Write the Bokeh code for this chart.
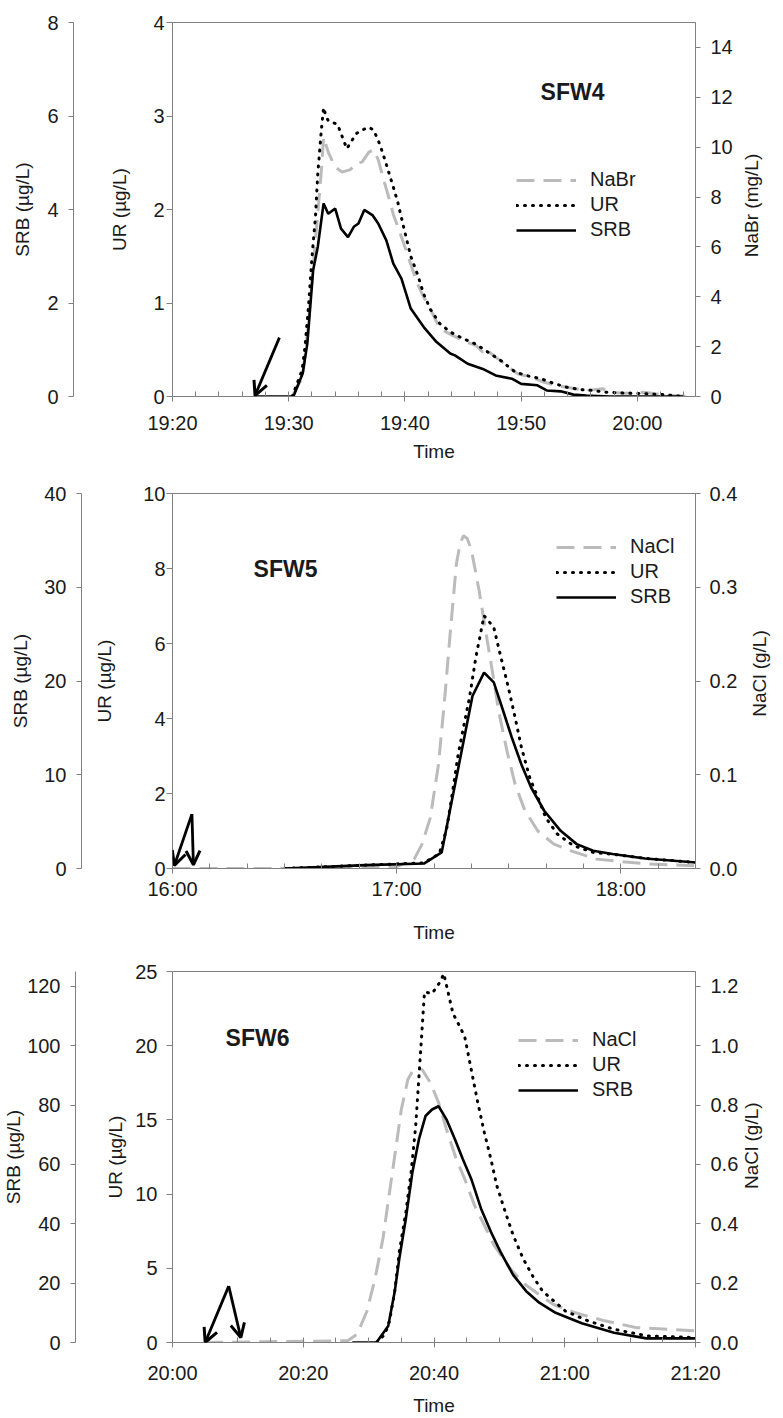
import math
import datetime as dt
from bokeh.plotting import figure
from bokeh.layouts import column
from bokeh.models import (Range1d, LinearAxis, FixedTicker, DatetimeTickFormatter,
                          Label, Arrow, OpenHead, NumeralTickFormatter)
from bokeh.embed import file_html
from bokeh.resources import INLINE

FONT = "Liberation Sans"

# ---------------- SFW4 (minutes after 19:20) ----------------
sfw4_start = "19:20"
sfw4_srb_t = [7.0, 10.4, 11.2, 11.6, 12.1, 12.5, 13.0, 13.4, 14.0, 14.5, 15.1, 15.6, 16.0,
              16.5, 17.2, 17.7, 18.4, 19.0, 19.7, 20.5, 21.6, 22.7, 23.9, 24.3, 25.4, 26.7,
              27.8, 29.2, 30.0, 31.4, 32.2, 33.4, 34.5, 35.6, 37.6, 44.0]
sfw4_srb = [0, 0, 0.49, 1.13, 2.70, 3.20, 4.13, 3.91, 4.02, 3.59, 3.41, 3.63, 3.70,
            3.99, 3.88, 3.70, 3.34, 2.84, 2.52, 1.88, 1.49, 1.17, 0.92, 0.88, 0.70, 0.59,
            0.45, 0.38, 0.27, 0.24, 0.13, 0.11, 0.04, 0.02, 0, 0]
sfw4_ur_t = [10.3, 11.15, 11.4, 11.7, 12.0, 12.3, 12.5, 12.8, 13.0, 13.2, 13.4, 13.8, 14.2,
             14.6, 15.0, 15.35, 15.8, 16.3, 16.9, 17.3, 17.7, 18.1, 18.55, 19.0, 19.4, 19.95,
             20.5, 21.1, 21.6, 22.2, 23.0, 23.9, 25.0, 26.1, 27.2, 28.3, 29.5, 30.6, 31.7,
             32.8, 33.9, 35.0, 36.2, 37.3, 39.0, 40.6, 42.3, 44.0]
sfw4_ur = [0, 0.28, 0.53, 0.96, 1.49, 1.92, 2.38, 2.84, 3.09, 3.00, 2.95, 2.93, 2.91,
           2.78, 2.65, 2.72, 2.81, 2.85, 2.88, 2.85, 2.74, 2.60, 2.42, 2.24, 2.07, 1.78,
           1.50, 1.30, 1.10, 0.93, 0.78, 0.69, 0.62, 0.56, 0.47, 0.38, 0.26, 0.22, 0.19,
           0.14, 0.10, 0.075, 0.064, 0.046, 0.035, 0.03, 0.02, 0.0]
sfw4_nabr_t = [10.3, 11.2, 11.6, 12.0, 12.4, 12.8, 13.0, 13.4, 14.0, 14.6, 15.3, 15.8, 16.3,
               16.9, 17.3, 17.7, 18.1, 18.6, 19.0, 19.4, 20.0, 20.5, 21.1, 21.6, 22.3, 23.0,
               24.1, 25.3, 26.1, 26.7, 26.9, 27.8, 28.6, 29.7, 30.9, 32.0, 33.1, 34.2, 35.6,
               37.0, 37.8, 38.9, 40.6, 42.3, 44.5]
sfw4_nabr = [0, 0.8, 2.5, 4.6, 6.8, 9.0, 10.4, 9.8, 9.2, 9.0, 9.1, 9.35, 9.4,
             9.8, 9.9, 9.5, 8.8, 8.0, 7.3, 6.8, 6.0, 5.3, 4.5, 4.0, 3.4, 2.72,
             2.45, 2.18, 2.05, 1.78, 1.91, 1.58, 1.31, 0.91, 0.77, 0.57, 0.44, 0.35, 0.24,
             0.31, 0.17, 0.13, 0.17, 0.06, 0.0]
sfw4_arrow_tail_t = [9.2]
sfw4_arrow_tail_ur = [0.63]
sfw4_arrow_head_t = [7.1]
sfw4_arrow_head_ur = [0.01]

# ---------------- SFW5 (minutes after 16:00) ----------------
sfw5_start = "16:00"
sfw5_srb_t = [30.1, 51.6, 67.3, 72.05, 80.3, 83.4, 86.0, 88.2, 90.8, 93.4, 96.0, 99.5,
              103.9, 108.2, 112.6, 117.8, 126.5, 140.2]
sfw5_srb = [0, 0.36, 0.53, 1.71, 18.4, 20.9, 19.85, 17.2, 14.0, 11.1, 8.64, 6.16,
            4.02, 2.60, 1.89, 1.54, 1.07, 0.64]
sfw5_ur_t = [30.1, 51.6, 67.3, 71.4, 73.4, 75.1, 76.4, 77.7, 79.5, 81.2, 83.4, 86.0, 87.7,
             89.9, 91.7, 93.4, 95.6, 97.8, 99.9, 103.0, 107.3, 112.6, 117.8, 126.5, 140.2]
sfw5_ur = [0, 0.09, 0.15, 0.39, 1.06, 2.13, 3.0, 3.67, 4.56, 5.63, 6.74, 6.43, 5.72,
           4.83, 4.03, 3.23, 2.43, 1.89, 1.36, 0.92, 0.61, 0.43, 0.38, 0.27, 0.16]
sfw5_nacl_t = [0, 30, 60, 64.7, 66.8, 69.0, 71.2, 72.9, 74.4, 76.0, 77.0, 77.9, 78.9, 80.0,
               82.1, 83.8, 85.6, 87.3, 89.5, 91.7, 94.3, 97.8, 102.1, 106.5, 113.5, 126.5,
               139.6]
sfw5_nacl = [0, 0, 0.002, 0.010, 0.026, 0.054, 0.111, 0.183, 0.254, 0.325, 0.347, 0.355,
             0.352, 0.340, 0.296, 0.254, 0.211, 0.168, 0.126, 0.090, 0.062, 0.040, 0.026,
             0.019, 0.010, 0.005, 0.003]
sfw5_arrow_tail_t = [5.2, 5.2]
sfw5_arrow_tail_ur = [1.45, 1.45]
sfw5_arrow_head_t = [0.5, 5.6]
sfw5_arrow_head_ur = [0.08, 0.1]

# ---------------- SFW6 (minutes after 20:00) ----------------
sfw6_start = "20:00"
sfw6_srb_t = [27.5, 31.2, 33.0, 34.0, 34.7, 35.7, 36.7, 37.7, 38.7, 39.7, 40.7, 41.9, 43.2,
              44.4, 45.7, 47.2, 48.7, 50.15, 52.1, 54.1, 56.1, 58.6, 62.6, 67.55, 72.5, 80.0]
sfw6_srb = [0, 0, 5.6, 17.3, 28.4, 41.8, 57.4, 68.5, 76.3, 78.5, 79.6, 75.2, 68.5,
            61.8, 55.1, 45.1, 37.3, 30.6, 22.8, 17.3, 13.4, 10.0, 6.5, 3.3, 1.4, 1.4]
sfw6_ur_t = [31.2, 32.5, 33.2, 34.0, 34.7, 35.7, 36.5, 37.2, 37.7, 38.2, 38.55, 39.7, 40.9,
             41.5, 42.2, 42.9, 43.7, 44.7, 45.7, 46.7, 47.7, 48.7, 49.6, 50.9, 52.1, 53.6,
             55.1, 56.6, 58.6, 60.1, 63.6, 67.55, 72.5, 80.0]
sfw6_ur = [0, 0.55, 1.45, 3.46, 6.13, 8.80, 11.48, 14.59, 17.93, 21.28, 23.62, 23.51, 24.28,
           24.85, 23.51, 22.17, 21.50, 20.61, 18.38, 16.16, 14.15, 12.37, 10.58, 8.80, 7.24,
           5.68, 4.48, 3.46, 2.70, 2.12, 1.45, 0.89, 0.45, 0.33]
sfw6_nacl_t = [5.0, 26.8, 28.25, 29.75, 31.0, 32.2, 33.2, 34.0, 35.0, 36.0, 37.0, 38.2,
               39.45, 40.7, 41.9, 43.4, 44.7, 46.2, 47.7, 49.15, 51.6, 53.6, 56.1, 58.3,
               61.6, 66.1, 71.0, 80.0]
sfw6_nacl = [0, 0.006, 0.028, 0.106, 0.217, 0.351, 0.507, 0.629, 0.785, 0.886, 0.925, 0.919,
             0.875, 0.808, 0.719, 0.618, 0.551, 0.462, 0.395, 0.329, 0.251, 0.201, 0.161,
             0.128, 0.100, 0.073, 0.050, 0.039]
sfw6_arrow_tail_t = [8.6, 8.6]
sfw6_arrow_tail_ur = [3.8, 3.8]
sfw6_arrow_head_t = [5.0, 10.45]
sfw6_arrow_head_ur = [0.0, 0.33]

EPOCH = dt.datetime(1970, 1, 1)


def to_dt(start, minutes):
    h, m = map(int, start.split(":"))
    base = dt.datetime(2000, 1, 1, h, m)
    return [base + dt.timedelta(minutes=float(x)) for x in minutes]


def to_ms(start, minutes):
    return [(d - EPOCH).total_seconds() * 1000.0 for d in to_dt(start, minutes)]


AX_COLOR = "#808080"
TXT_COLOR = "#1a1a1a"

# approximate advance widths (em) of the sans font, used to centre the rotated titles
_W = {"N": .722, "a": .556, "B": .667, "r": .333, " ": .278, "(": .333, "m": .833,
      "g": .556, "/": .278, "L": .556, ")": .333, "C": .722, "l": .222}


def text_len(s, size):
    return sum(_W.get(c, .556) for c in s) * size


def style_axis(ax, tick_out, label_standoff, axis_label_standoff,
               tick_size="20px", label_size="19px"):
    ax.axis_line_color = AX_COLOR
    ax.major_tick_line_color = AX_COLOR
    ax.minor_tick_line_color = None
    ax.major_tick_in = 0
    ax.major_tick_out = tick_out
    ax.minor_tick_in = 0
    ax.minor_tick_out = 0
    ax.major_label_standoff = label_standoff
    ax.axis_label_standoff = axis_label_standoff
    ax.major_label_text_font = FONT
    ax.major_label_text_font_size = tick_size
    ax.major_label_text_color = TXT_COLOR
    ax.axis_label_text_font = FONT
    ax.axis_label_text_font_size = label_size
    ax.axis_label_text_font_style = "normal"
    ax.axis_label_text_color = TXT_COLOR


def make_panel(cfg):
    start = cfg["start"]
    W = 783
    fw, fh, bl, bt, H = cfg["fw"], cfg["fh"], cfg["bl"], cfg["bt"], cfg["height"]
    x0, x1 = to_dt(start, [0, cfg["span"]])
    p = figure(width=W, height=H, x_axis_type="datetime",
               x_range=Range1d(x0, x1), y_range=Range1d(0, cfg["ur_max"]),
               output_backend="svg", toolbar_location=None,
               min_border_left=bl, min_border_right=W - bl - fw,
               min_border_top=bt, min_border_bottom=H - bt - fh)
    p.xgrid.visible = False
    p.ygrid.visible = False
    p.outline_line_color = AX_COLOR
    p.outline_line_width = 1
    p.background_fill_color = "white"
    p.border_fill_color = "white"
    p.extra_y_ranges = {"srb": Range1d(0, cfg["srb_max"]), "na": Range1d(0, cfg["na_max"])}

    p.line(to_dt(start, cfg["na_t"]), cfg["na"], y_range_name="na",
           line_color="#BBBBBB", line_width=3, line_dash="18 9",
           legend_label=cfg["na_name"])
    p.line(to_dt(start, cfg["ur_t"]), cfg["ur"], line_color="black", line_width=3,
           line_dash="1 7", line_cap="round", legend_label="UR")
    p.line(to_dt(start, cfg["srb_t"]), cfg["srb"], y_range_name="srb",
           line_color="black", line_width=2.6, legend_label="SRB")

    # bottom axis
    xa = p.xaxis[0]
    xa.ticker = FixedTicker(ticks=to_ms(start, cfg["x_major"]),
                            minor_ticks=to_ms(start, cfg["x_minor"]))
    fmt = "%H:%M"
    xa.formatter = DatetimeTickFormatter(seconds=fmt, minsec=fmt, minutes=fmt,
                                         hourmin=fmt, hours=fmt, days=fmt)
    xa.axis_label = "Time"
    style_axis(xa, 5, cfg["x_ls"], cfg["x_als"])
    xa.minor_tick_line_color = AX_COLOR
    xa.minor_tick_in = 5
    xa.minor_tick_out = 0

    # UR axis (inner left)
    ya = p.yaxis[0]
    ya.ticker = FixedTicker(ticks=cfg["ur_ticks"])
    ya.axis_label = "UR (µg/L)"
    style_axis(ya, 6, cfg["ur_ls"], cfg["ur_als"])

    # blank spacer between the two left axes: one white tick with an empty label
    sp_tick = cfg["srb_ticks"][1]
    spacer = LinearAxis(y_range_name="srb", ticker=FixedTicker(ticks=[sp_tick]),
                        axis_line_color=None, major_tick_line_color="white",
                        minor_tick_line_color=None, major_tick_in=0,
                        major_tick_out=cfg["spacer"], minor_tick_out=0,
                        major_label_standoff=0, major_label_overrides={sp_tick: ""},
                        major_label_text_alpha=0, major_label_text_font_size="1px",
                        axis_label=None)
    p.add_layout(spacer, "left")

    # SRB axis (outer left)
    sa = LinearAxis(y_range_name="srb", ticker=FixedTicker(ticks=cfg["srb_ticks"]),
                    axis_label="SRB (µg/L)")
    style_axis(sa, 5, 10, cfg["srb_als"])
    p.add_layout(sa, "left")

    # right axis
    ra = LinearAxis(y_range_name="na", ticker=FixedTicker(ticks=cfg["na_ticks"]))
    if cfg.get("na_fmt"):
        ra.formatter = NumeralTickFormatter(format=cfg["na_fmt"])
    style_axis(ra, 5, cfg["na_ls"], 0)
    p.add_layout(ra, "right")

    # right-hand title, reading bottom-to-top (one rotated tick label on a bare axis)
    tlen = text_len(cfg["na_label"], 19)
    tv = round((cfg["na_title_y"] - tlen / 2.0) / fh * cfg["na_max"], 4)
    ta = LinearAxis(y_range_name="na", ticker=FixedTicker(ticks=[tv]),
                    major_label_overrides={tv: cfg["na_label"]},
                    major_label_orientation=math.pi / 2,
                    axis_line_color=None, major_tick_line_color=None,
                    minor_tick_line_color=None, major_tick_in=0, major_tick_out=0,
                    minor_tick_out=0, major_label_standoff=cfg["na_title_so"],
                    major_label_text_font=FONT, major_label_text_font_size="19px",
                    major_label_text_color=TXT_COLOR, axis_label=None)
    p.add_layout(ta, "right")

    # legend
    lg = p.legend[0]
    lg.location = cfg["legend_loc"]
    lg.border_line_color = None
    lg.background_fill_alpha = 0
    lg.label_text_font = FONT
    lg.label_text_font_size = "20px"
    lg.label_text_color = TXT_COLOR
    lg.glyph_width = 60
    lg.glyph_height = 20
    lg.label_height = 20
    lg.label_standoff = 14
    lg.spacing = 2
    lg.padding = 0
    lg.margin = 0

    # panel name
    p.add_layout(Label(x=cfg["title_xy"][0], y=cfg["title_xy"][1], x_units="screen",
                       y_units="screen", text=cfg["title"], text_font=FONT,
                       text_font_size="23px", text_font_style="bold",
                       text_color=TXT_COLOR, text_align="center",
                       text_baseline="middle"))

    # injection arrows
    tails = to_ms(start, cfg["a_tail_t"])
    heads = to_ms(start, cfg["a_head_t"])
    for xs, ys, xe, ye in zip(tails, cfg["a_tail_y"], heads, cfg["a_head_y"]):
        p.add_layout(Arrow(end=OpenHead(size=14, line_width=3, line_color="black"),
                           x_start=xs, y_start=ys, x_end=xe, y_end=ye,
                           line_width=2.8, line_color="black"))
    return p


panels = [
    dict(start=sfw4_start, span=45, height=470, bt=22, fh=374, bl=169, fw=537,
         ur_max=4, srb_max=8, na_max=15,
         srb_t=sfw4_srb_t, srb=sfw4_srb, ur_t=sfw4_ur_t, ur=sfw4_ur,
         na_t=sfw4_nabr_t, na=sfw4_nabr, na_name="NaBr", na_label="NaBr (mg/L)",
         na_fmt=None,
         x_major=[0, 10, 20, 30, 40], x_minor=list(range(0, 46, 2)),
         ur_ticks=[0, 1, 2, 3, 4], srb_ticks=[0, 2, 4, 6, 8],
         na_ticks=[0, 2, 4, 6, 8, 10, 12, 14],
         x_ls=10, x_als=4, ur_ls=2, ur_als=20, spacer=33, srb_als=11,
         na_ls=10, na_title_so=16, na_title_y=191,
         legend_loc=(344, 155), title="SFW4", title_xy=(400, 305),
         a_tail_t=sfw4_arrow_tail_t, a_tail_y=sfw4_arrow_tail_ur,
         a_head_t=sfw4_arrow_head_t, a_head_y=sfw4_arrow_head_ur),
    dict(start=sfw5_start, span=140, height=480, bt=23, fh=375, bl=163, fw=536,
         ur_max=10, srb_max=40, na_max=0.4,
         srb_t=sfw5_srb_t, srb=sfw5_srb, ur_t=sfw5_ur_t, ur=sfw5_ur,
         na_t=sfw5_nacl_t, na=sfw5_nacl, na_name="NaCl", na_label="NaCl (g/L)",
         na_fmt="0.0",
         x_major=[0, 60, 120], x_minor=list(range(0, 141, 10)),
         ur_ticks=[0, 2, 4, 6, 8, 10], srb_ticks=[0, 10, 20, 30, 40],
         na_ticks=[0, 0.1, 0.2, 0.3, 0.4],
         x_ls=4, x_als=19, ur_ls=1, ur_als=25, spacer=10, srb_als=10,
         na_ls=9, na_title_so=19, na_title_y=195,
         legend_loc=(384, 260), title="SFW5", title_xy=(113, 300),
         a_tail_t=sfw5_arrow_tail_t, a_tail_y=sfw5_arrow_tail_ur,
         a_head_t=sfw5_arrow_head_t, a_head_y=sfw5_arrow_head_ur),
    dict(start=sfw6_start, span=80, height=468, bt=21, fh=374, bl=171, fw=536,
         ur_max=25, srb_max=125, na_max=1.25,
         srb_t=sfw6_srb_t, srb=sfw6_srb, ur_t=sfw6_ur_t, ur=sfw6_ur,
         na_t=sfw6_nacl_t, na=sfw6_nacl, na_name="NaCl", na_label="NaCl (g/L)",
         na_fmt="0.0",
         x_major=[0, 20, 40, 60, 80], x_minor=list(range(0, 81, 5)),
         ur_ticks=[0, 5, 10, 15, 20, 25], srb_ticks=[0, 20, 40, 60, 80, 100, 120],
         na_ticks=[0, 0.2, 0.4, 0.6, 0.8, 1.0, 1.2],
         x_ls=14, x_als=8, ur_ls=9, ur_als=6, spacer=27, srb_als=0,
         na_ls=10, na_title_so=10, na_title_y=198,
         legend_loc=(346, 241), title="SFW6", title_xy=(85, 305),
         a_tail_t=sfw6_arrow_tail_t, a_tail_y=sfw6_arrow_tail_ur,
         a_head_t=sfw6_arrow_head_t, a_head_y=sfw6_arrow_head_ur),
]

figs = [make_panel(c) for c in panels]
layout = column(*figs, spacing=0)
open("out.html", "w").write(file_html(layout, INLINE))
